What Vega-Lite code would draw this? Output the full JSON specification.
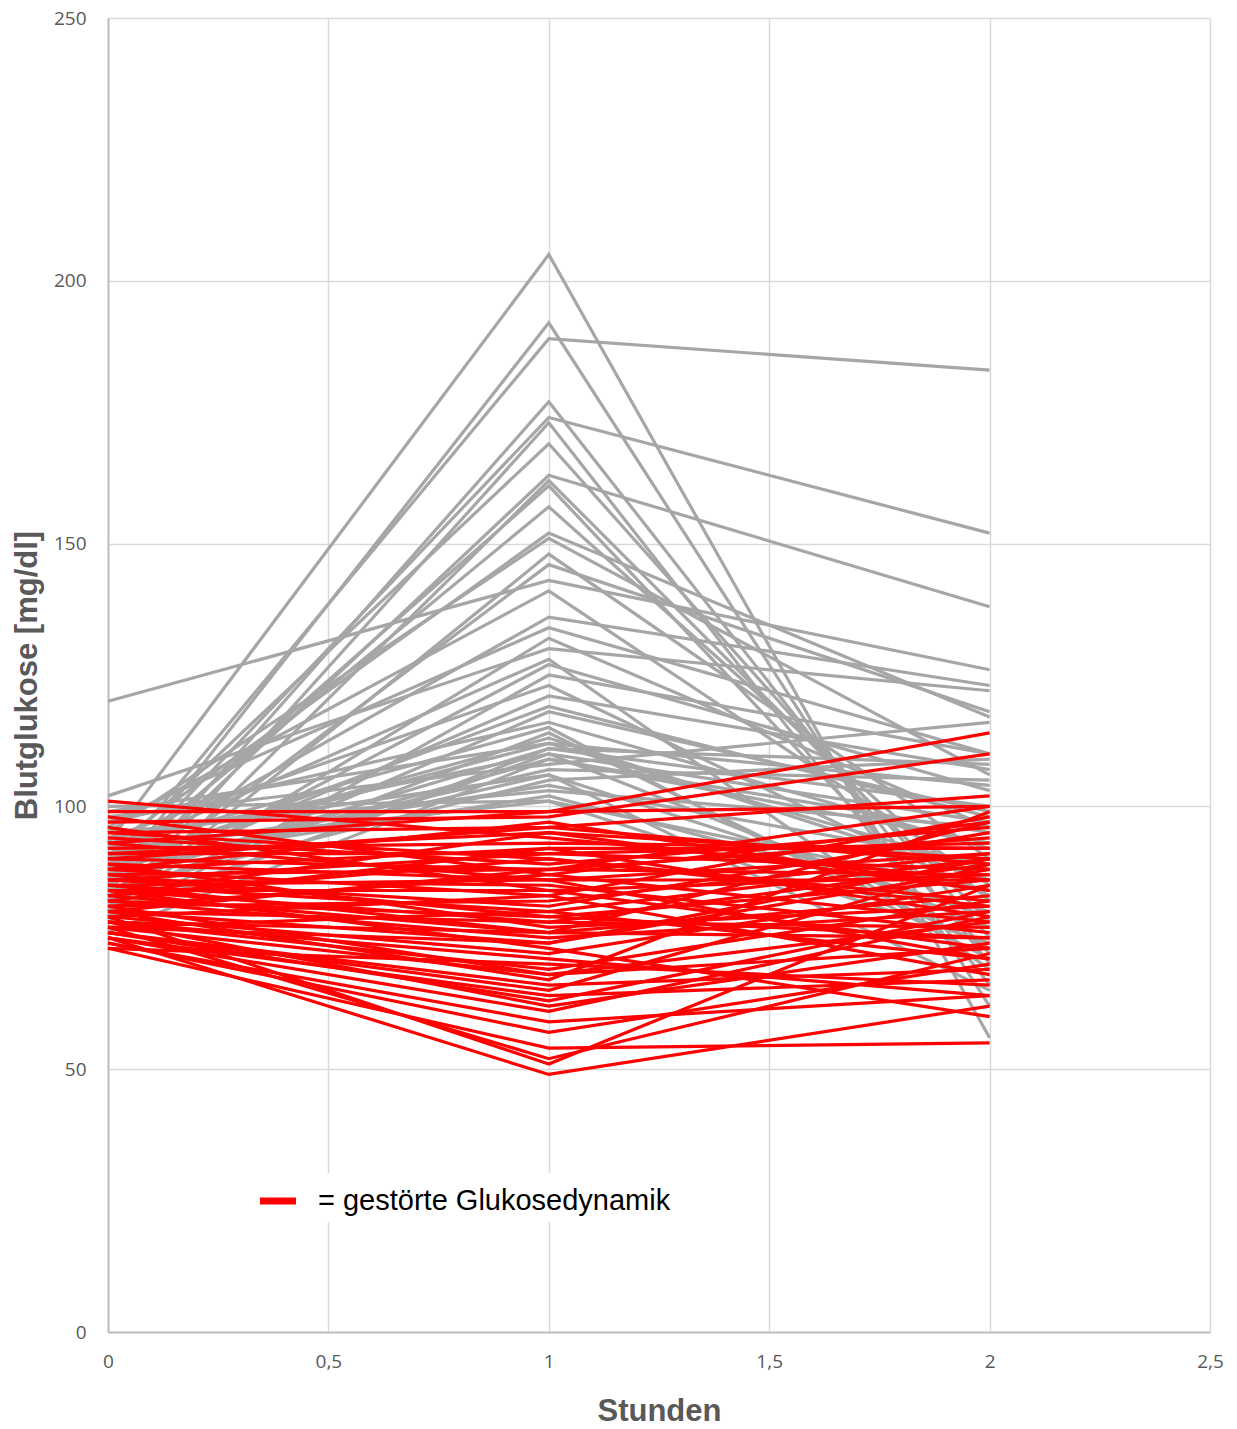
{
  "$schema": "https://vega.github.io/schema/vega-lite/v6.json",
  "width": 1102,
  "height": 1314,
  "autosize": {"type": "none"},
  "padding": {"left": 108, "top": 18, "right": 27, "bottom": 97},
  "background": "white",
  "config": {
    "view": {"stroke": null},
    "axis": {
      "gridColor": "#D9D9D9",
      "gridWidth": 1.5,
      "domainColor": "#BFBFBF",
      "domainWidth": 2,
      "ticks": false,
      "labelFont": "Open Sans",
      "labelFontSize": 19,
      "labelColor": "#595959",
      "labelFlush": false,
      "titleFont": "Liberation Sans",
      "titleFontSize": 31,
      "titleFontWeight": "bold",
      "titleColor": "#595959"
    }
  },
  "datasets": {
    "grau": [
      {"id": 1, "t": 0, "v": 93}, {"id": 1, "t": 1, "v": 205}, {"id": 1, "t": 2, "v": 56},
      {"id": 2, "t": 0, "v": 85}, {"id": 2, "t": 1, "v": 192}, {"id": 2, "t": 2, "v": 62},
      {"id": 3, "t": 0, "v": 88}, {"id": 3, "t": 1, "v": 189}, {"id": 3, "t": 2, "v": 183},
      {"id": 4, "t": 0, "v": 82}, {"id": 4, "t": 1, "v": 177}, {"id": 4, "t": 2, "v": 70},
      {"id": 5, "t": 0, "v": 86}, {"id": 5, "t": 1, "v": 174}, {"id": 5, "t": 2, "v": 152},
      {"id": 6, "t": 0, "v": 80}, {"id": 6, "t": 1, "v": 173}, {"id": 6, "t": 2, "v": 66},
      {"id": 7, "t": 0, "v": 90}, {"id": 7, "t": 1, "v": 169}, {"id": 7, "t": 2, "v": 75},
      {"id": 8, "t": 0, "v": 84}, {"id": 8, "t": 1, "v": 163}, {"id": 8, "t": 2, "v": 138},
      {"id": 9, "t": 0, "v": 79}, {"id": 9, "t": 1, "v": 162}, {"id": 9, "t": 2, "v": 78},
      {"id": 10, "t": 0, "v": 87}, {"id": 10, "t": 1, "v": 161}, {"id": 10, "t": 2, "v": 72},
      {"id": 11, "t": 0, "v": 92}, {"id": 11, "t": 1, "v": 152}, {"id": 11, "t": 2, "v": 117},
      {"id": 12, "t": 0, "v": 95}, {"id": 12, "t": 1, "v": 151}, {"id": 12, "t": 2, "v": 106},
      {"id": 13, "t": 0, "v": 83}, {"id": 13, "t": 1, "v": 146}, {"id": 13, "t": 2, "v": 118},
      {"id": 14, "t": 0, "v": 120}, {"id": 14, "t": 1, "v": 143}, {"id": 14, "t": 2, "v": 126},
      {"id": 15, "t": 0, "v": 96}, {"id": 15, "t": 1, "v": 141}, {"id": 15, "t": 2, "v": 85},
      {"id": 16, "t": 0, "v": 89}, {"id": 16, "t": 1, "v": 136}, {"id": 16, "t": 2, "v": 123},
      {"id": 17, "t": 0, "v": 81}, {"id": 17, "t": 1, "v": 132}, {"id": 17, "t": 2, "v": 96},
      {"id": 18, "t": 0, "v": 102}, {"id": 18, "t": 1, "v": 130}, {"id": 18, "t": 2, "v": 122},
      {"id": 19, "t": 0, "v": 91}, {"id": 19, "t": 1, "v": 128}, {"id": 19, "t": 2, "v": 69},
      {"id": 20, "t": 0, "v": 78}, {"id": 20, "t": 1, "v": 125}, {"id": 20, "t": 2, "v": 110},
      {"id": 21, "t": 0, "v": 94}, {"id": 21, "t": 1, "v": 123}, {"id": 21, "t": 2, "v": 83},
      {"id": 22, "t": 0, "v": 85}, {"id": 22, "t": 1, "v": 121}, {"id": 22, "t": 2, "v": 107},
      {"id": 23, "t": 0, "v": 88}, {"id": 23, "t": 1, "v": 119}, {"id": 23, "t": 2, "v": 98},
      {"id": 24, "t": 0, "v": 97}, {"id": 24, "t": 1, "v": 116}, {"id": 24, "t": 2, "v": 92},
      {"id": 25, "t": 0, "v": 82}, {"id": 25, "t": 1, "v": 114}, {"id": 25, "t": 2, "v": 73},
      {"id": 26, "t": 0, "v": 99}, {"id": 26, "t": 1, "v": 112}, {"id": 26, "t": 2, "v": 104},
      {"id": 27, "t": 0, "v": 90}, {"id": 27, "t": 1, "v": 112}, {"id": 27, "t": 2, "v": 88},
      {"id": 28, "t": 0, "v": 86}, {"id": 28, "t": 1, "v": 111}, {"id": 28, "t": 2, "v": 108},
      {"id": 29, "t": 0, "v": 93}, {"id": 29, "t": 1, "v": 110}, {"id": 29, "t": 2, "v": 97},
      {"id": 30, "t": 0, "v": 80}, {"id": 30, "t": 1, "v": 110}, {"id": 30, "t": 2, "v": 77},
      {"id": 31, "t": 0, "v": 76}, {"id": 31, "t": 1, "v": 109}, {"id": 31, "t": 2, "v": 95},
      {"id": 32, "t": 0, "v": 98}, {"id": 32, "t": 1, "v": 108}, {"id": 32, "t": 2, "v": 116},
      {"id": 33, "t": 0, "v": 87}, {"id": 33, "t": 1, "v": 106}, {"id": 33, "t": 2, "v": 65},
      {"id": 34, "t": 0, "v": 84}, {"id": 34, "t": 1, "v": 105}, {"id": 34, "t": 2, "v": 109},
      {"id": 35, "t": 0, "v": 91}, {"id": 35, "t": 1, "v": 104}, {"id": 35, "t": 2, "v": 89},
      {"id": 36, "t": 0, "v": 95}, {"id": 36, "t": 1, "v": 103}, {"id": 36, "t": 2, "v": 96},
      {"id": 37, "t": 0, "v": 89}, {"id": 37, "t": 1, "v": 102}, {"id": 37, "t": 2, "v": 80},
      {"id": 38, "t": 0, "v": 100}, {"id": 38, "t": 1, "v": 101}, {"id": 38, "t": 2, "v": 74},
      {"id": 39, "t": 0, "v": 92}, {"id": 39, "t": 1, "v": 101}, {"id": 39, "t": 2, "v": 84},
      {"id": 40, "t": 0, "v": 88}, {"id": 40, "t": 1, "v": 107}, {"id": 40, "t": 2, "v": 105},
      {"id": 41, "t": 0, "v": 82}, {"id": 41, "t": 1, "v": 118}, {"id": 41, "t": 2, "v": 99},
      {"id": 42, "t": 0, "v": 90}, {"id": 42, "t": 1, "v": 113}, {"id": 42, "t": 2, "v": 86},
      {"id": 43, "t": 0, "v": 86}, {"id": 43, "t": 1, "v": 109}, {"id": 43, "t": 2, "v": 93},
      {"id": 44, "t": 0, "v": 79}, {"id": 44, "t": 1, "v": 111}, {"id": 44, "t": 2, "v": 100},
      {"id": 45, "t": 0, "v": 94}, {"id": 45, "t": 1, "v": 106}, {"id": 45, "t": 2, "v": 79},
      {"id": 46, "t": 0, "v": 83}, {"id": 46, "t": 1, "v": 127}, {"id": 46, "t": 2, "v": 103},
      {"id": 47, "t": 0, "v": 97}, {"id": 47, "t": 1, "v": 134}, {"id": 47, "t": 2, "v": 110},
      {"id": 48, "t": 0, "v": 80}, {"id": 48, "t": 1, "v": 148}, {"id": 48, "t": 2, "v": 90},
      {"id": 49, "t": 0, "v": 88}, {"id": 49, "t": 1, "v": 157}, {"id": 49, "t": 2, "v": 82},
      {"id": 50, "t": 0, "v": 92}, {"id": 50, "t": 1, "v": 115}, {"id": 50, "t": 2, "v": 71}
    ],
    "rot": [
      {"id": 1, "t": 0, "v": 101}, {"id": 1, "t": 1, "v": 94}, {"id": 1, "t": 2, "v": 86},
      {"id": 2, "t": 0, "v": 99}, {"id": 2, "t": 1, "v": 99}, {"id": 2, "t": 2, "v": 114},
      {"id": 3, "t": 0, "v": 97}, {"id": 3, "t": 1, "v": 98}, {"id": 3, "t": 2, "v": 110},
      {"id": 4, "t": 0, "v": 95}, {"id": 4, "t": 1, "v": 96}, {"id": 4, "t": 2, "v": 102},
      {"id": 5, "t": 0, "v": 93}, {"id": 5, "t": 1, "v": 99}, {"id": 5, "t": 2, "v": 100},
      {"id": 6, "t": 0, "v": 92}, {"id": 6, "t": 1, "v": 93}, {"id": 6, "t": 2, "v": 92},
      {"id": 7, "t": 0, "v": 91}, {"id": 7, "t": 1, "v": 91}, {"id": 7, "t": 2, "v": 88},
      {"id": 8, "t": 0, "v": 90}, {"id": 8, "t": 1, "v": 88}, {"id": 8, "t": 2, "v": 100},
      {"id": 9, "t": 0, "v": 89}, {"id": 9, "t": 1, "v": 86}, {"id": 9, "t": 2, "v": 91},
      {"id": 10, "t": 0, "v": 88}, {"id": 10, "t": 1, "v": 97}, {"id": 10, "t": 2, "v": 84},
      {"id": 11, "t": 0, "v": 88}, {"id": 11, "t": 1, "v": 83}, {"id": 11, "t": 2, "v": 98},
      {"id": 12, "t": 0, "v": 87}, {"id": 12, "t": 1, "v": 88}, {"id": 12, "t": 2, "v": 87},
      {"id": 13, "t": 0, "v": 86}, {"id": 13, "t": 1, "v": 81}, {"id": 13, "t": 2, "v": 95},
      {"id": 14, "t": 0, "v": 85}, {"id": 14, "t": 1, "v": 80}, {"id": 14, "t": 2, "v": 90},
      {"id": 15, "t": 0, "v": 85}, {"id": 15, "t": 1, "v": 86}, {"id": 15, "t": 2, "v": 86},
      {"id": 16, "t": 0, "v": 84}, {"id": 16, "t": 1, "v": 78}, {"id": 16, "t": 2, "v": 89},
      {"id": 17, "t": 0, "v": 83}, {"id": 17, "t": 1, "v": 90}, {"id": 17, "t": 2, "v": 81},
      {"id": 18, "t": 0, "v": 83}, {"id": 18, "t": 1, "v": 76}, {"id": 18, "t": 2, "v": 83},
      {"id": 19, "t": 0, "v": 82}, {"id": 19, "t": 1, "v": 75}, {"id": 19, "t": 2, "v": 80},
      {"id": 20, "t": 0, "v": 81}, {"id": 20, "t": 1, "v": 87}, {"id": 20, "t": 2, "v": 78},
      {"id": 21, "t": 0, "v": 80}, {"id": 21, "t": 1, "v": 74}, {"id": 21, "t": 2, "v": 90},
      {"id": 22, "t": 0, "v": 80}, {"id": 22, "t": 1, "v": 78}, {"id": 22, "t": 2, "v": 77},
      {"id": 23, "t": 0, "v": 79}, {"id": 23, "t": 1, "v": 72}, {"id": 23, "t": 2, "v": 85},
      {"id": 24, "t": 0, "v": 78}, {"id": 24, "t": 1, "v": 76}, {"id": 24, "t": 2, "v": 75},
      {"id": 25, "t": 0, "v": 78}, {"id": 25, "t": 1, "v": 69}, {"id": 25, "t": 2, "v": 82},
      {"id": 26, "t": 0, "v": 77}, {"id": 26, "t": 1, "v": 68}, {"id": 26, "t": 2, "v": 73},
      {"id": 27, "t": 0, "v": 77}, {"id": 27, "t": 1, "v": 80}, {"id": 27, "t": 2, "v": 71},
      {"id": 28, "t": 0, "v": 76}, {"id": 28, "t": 1, "v": 66}, {"id": 28, "t": 2, "v": 69},
      {"id": 29, "t": 0, "v": 76}, {"id": 29, "t": 1, "v": 65}, {"id": 29, "t": 2, "v": 89},
      {"id": 30, "t": 0, "v": 75}, {"id": 30, "t": 1, "v": 64}, {"id": 30, "t": 2, "v": 67},
      {"id": 31, "t": 0, "v": 75}, {"id": 31, "t": 1, "v": 61}, {"id": 31, "t": 2, "v": 79},
      {"id": 32, "t": 0, "v": 74}, {"id": 32, "t": 1, "v": 59}, {"id": 32, "t": 2, "v": 64},
      {"id": 33, "t": 0, "v": 74}, {"id": 33, "t": 1, "v": 57}, {"id": 33, "t": 2, "v": 70},
      {"id": 34, "t": 0, "v": 73}, {"id": 34, "t": 1, "v": 54}, {"id": 34, "t": 2, "v": 55},
      {"id": 35, "t": 0, "v": 77}, {"id": 35, "t": 1, "v": 52}, {"id": 35, "t": 2, "v": 72},
      {"id": 36, "t": 0, "v": 79}, {"id": 36, "t": 1, "v": 51}, {"id": 36, "t": 2, "v": 85},
      {"id": 37, "t": 0, "v": 75}, {"id": 37, "t": 1, "v": 49}, {"id": 37, "t": 2, "v": 62},
      {"id": 38, "t": 0, "v": 82}, {"id": 38, "t": 1, "v": 92}, {"id": 38, "t": 2, "v": 92},
      {"id": 39, "t": 0, "v": 86}, {"id": 39, "t": 1, "v": 85}, {"id": 39, "t": 2, "v": 76},
      {"id": 40, "t": 0, "v": 91}, {"id": 40, "t": 1, "v": 95}, {"id": 40, "t": 2, "v": 84},
      {"id": 41, "t": 0, "v": 84}, {"id": 41, "t": 1, "v": 73}, {"id": 41, "t": 2, "v": 60},
      {"id": 42, "t": 0, "v": 89}, {"id": 42, "t": 1, "v": 77}, {"id": 42, "t": 2, "v": 81},
      {"id": 43, "t": 0, "v": 94}, {"id": 43, "t": 1, "v": 89}, {"id": 43, "t": 2, "v": 96},
      {"id": 44, "t": 0, "v": 78}, {"id": 44, "t": 1, "v": 71}, {"id": 44, "t": 2, "v": 64},
      {"id": 45, "t": 0, "v": 81}, {"id": 45, "t": 1, "v": 82}, {"id": 45, "t": 2, "v": 91},
      {"id": 46, "t": 0, "v": 96}, {"id": 46, "t": 1, "v": 84}, {"id": 46, "t": 2, "v": 87},
      {"id": 47, "t": 0, "v": 87}, {"id": 47, "t": 1, "v": 79}, {"id": 47, "t": 2, "v": 75},
      {"id": 48, "t": 0, "v": 80}, {"id": 48, "t": 1, "v": 67}, {"id": 48, "t": 2, "v": 99},
      {"id": 49, "t": 0, "v": 76}, {"id": 49, "t": 1, "v": 63}, {"id": 49, "t": 2, "v": 80},
      {"id": 50, "t": 0, "v": 73}, {"id": 50, "t": 1, "v": 70}, {"id": 50, "t": 2, "v": 66},
      {"id": 51, "t": 0, "v": 98}, {"id": 51, "t": 1, "v": 87}, {"id": 51, "t": 2, "v": 97},
      {"id": 52, "t": 0, "v": 95}, {"id": 52, "t": 1, "v": 90}, {"id": 52, "t": 2, "v": 82},
      {"id": 53, "t": 0, "v": 90}, {"id": 53, "t": 1, "v": 96}, {"id": 53, "t": 2, "v": 89},
      {"id": 54, "t": 0, "v": 86}, {"id": 54, "t": 1, "v": 91}, {"id": 54, "t": 2, "v": 93},
      {"id": 55, "t": 0, "v": 84}, {"id": 55, "t": 1, "v": 84}, {"id": 55, "t": 2, "v": 73},
      {"id": 56, "t": 0, "v": 82}, {"id": 56, "t": 1, "v": 79}, {"id": 56, "t": 2, "v": 86},
      {"id": 57, "t": 0, "v": 80}, {"id": 57, "t": 1, "v": 88}, {"id": 57, "t": 2, "v": 94},
      {"id": 58, "t": 0, "v": 79}, {"id": 58, "t": 1, "v": 83}, {"id": 58, "t": 2, "v": 68},
      {"id": 59, "t": 0, "v": 77}, {"id": 59, "t": 1, "v": 74}, {"id": 59, "t": 2, "v": 88},
      {"id": 60, "t": 0, "v": 88}, {"id": 60, "t": 1, "v": 92}, {"id": 60, "t": 2, "v": 79},
      {"id": 61, "t": 0, "v": 93}, {"id": 61, "t": 1, "v": 86}, {"id": 61, "t": 2, "v": 71},
      {"id": 62, "t": 0, "v": 85}, {"id": 62, "t": 1, "v": 76}, {"id": 62, "t": 2, "v": 97},
      {"id": 63, "t": 0, "v": 81}, {"id": 63, "t": 1, "v": 68}, {"id": 63, "t": 2, "v": 78},
      {"id": 64, "t": 0, "v": 78}, {"id": 64, "t": 1, "v": 62}, {"id": 64, "t": 2, "v": 74},
      {"id": 65, "t": 0, "v": 83}, {"id": 65, "t": 1, "v": 95}, {"id": 65, "t": 2, "v": 90}
    ]
  },
  "encoding": {
    "x": {
      "field": "t",
      "type": "quantitative",
      "scale": {"domain": [0, 2.5], "nice": false, "zero": false},
      "axis": {
        "title": "Stunden",
        "values": [0, 0.5, 1, 1.5, 2, 2.5],
        "labelExpr": "replace(toString(datum.value), '.', ',')",
        "labelPadding": 20,
        "titlePadding": 25
      }
    },
    "y": {
      "field": "v",
      "type": "quantitative",
      "scale": {"domain": [0, 250], "nice": false},
      "axis": {
        "title": "Blutglukose [mg/dl]",
        "values": [0, 50, 100, 150, 200, 250],
        "labelPadding": 22,
        "titlePadding": 10
      }
    },
    "detail": {"field": "id", "type": "nominal"}
  },
  "layer": [
    {
      "data": {"name": "grau"},
      "mark": {"type": "line", "strokeWidth": 3.2, "strokeJoin": "miter"},
      "encoding": {
        "color": {
          "datum": "normal",
          "type": "nominal",
          "scale": {"domain": ["= gestörte Glukosedynamik", "normal"], "range": ["#FF0000", "#A6A6A6"]},
          "legend": {
            "orient": "none",
            "legendX": 142,
            "legendY": 1155,
            "title": null,
            "values": ["= gestörte Glukosedynamik"],
            "fillColor": "white",
            "padding": 6,
            "symbolType": "stroke",
            "symbolStrokeWidth": 7,
            "symbolSize": 1300,
            "labelFont": "Liberation Sans",
            "labelFontSize": 29,
            "labelColor": "black",
            "labelOffset": 18,
            "labelLimit": 700
          }
        }
      }
    },
    {
      "data": {"name": "rot"},
      "mark": {"type": "line", "strokeWidth": 3.2, "strokeJoin": "miter"},
      "encoding": {
        "color": {"datum": "= gestörte Glukosedynamik", "type": "nominal"}
      }
    }
  ]
}
